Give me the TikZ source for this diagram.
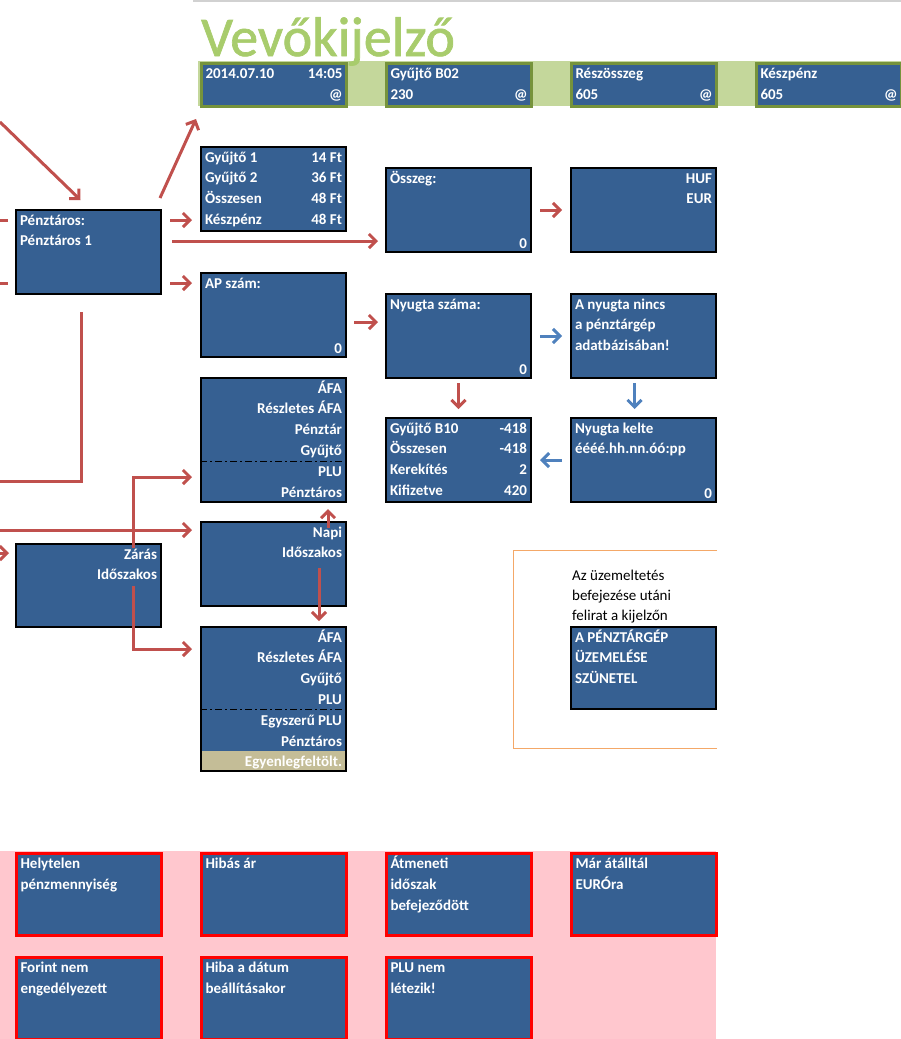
\documentclass[tikz,border=0pt]{standalone}
\usepackage{fontspec}
\setmainfont{Carlito}
\usetikzlibrary{arrows.meta}
\definecolor{scrblue}{RGB}{54,96,146}
\definecolor{bandgreen}{RGB}{196,215,155}
\definecolor{dispolive}{RGB}{118,147,60}
\definecolor{titlegreen}{RGB}{168,204,108}
\definecolor{errpink}{RGB}{255,199,206}
\definecolor{tanband}{RGB}{196,189,151}
\definecolor{arrred}{RGB}{192,80,77}
\definecolor{arrblue}{RGB}{79,129,189}
\definecolor{frameorange}{RGB}{244,168,104}
\newcommand{\screentext}[3][84pt]{\parbox[t][#1][t]{137pt}{#2\rule{0pt}{15pt}#3}}
\newcommand{\bottomzero}{\par\vfill\mbox{}\hfill 0\rule[-4pt]{0pt}{4pt}}
\tikzset{screen/.style={draw=black,line width=2pt,fill=scrblue,text=white,anchor=north west,
   inner xsep=4pt,inner ysep=0pt,font=\bfseries\fontsize{15}{20.8}\selectfont},
 dispbox/.style={screen,draw=dispolive,line width=3pt},
 errbox/.style={screen,draw=red,line width=3pt},
 redarr/.style={draw=arrred,line width=3pt,-{Straight Barb[length=7pt,width=14pt]}},
 bluearr/.style={redarr,draw=arrblue},
 redline/.style={draw=arrred,line width=3pt},
 divider/.style={draw=black,line width=1pt,dash pattern=on 7pt off 3pt on 2pt off 3pt}}

\begin{document}
\begin{tikzpicture}[x=1pt,y=-1pt]
\useasboundingbox (0,0) rectangle (901,1039);
\draw[draw=black!18,line width=1.5pt] (193,1) -- (901,1);
\fill[bandgreen] (198,61) rectangle (901,106);
\node[dispbox] (kdate) at (200,62) {\screentext[43pt]{}{2014.07.10\hfill 14:05\par\mbox{}\hfill @}};
\node[dispbox] (kgyujto) at (385,62) {\screentext[43pt]{}{Gyűjtő B02\par 230\hfill @}};
\node[dispbox] (kresz) at (570,62) {\screentext[43pt]{}{Részösszeg\par 605\hfill @}};
\node[dispbox] (kkesz) at (755,62) {\screentext[43pt]{}{Készpénz\par 605\hfill @}};
\node[anchor=base west,inner sep=0pt,text=titlegreen,font=\fontsize{56}{56}\selectfont\addfontfeature{FakeBold=1.2}] (title) at (201,56) {Vevőkijelző};

\node[screen] (pt) at (15,209) {\screentext{}{Pénztáros:\par Pénztáros 1}};
\node[screen] (gyu) at (200,146) {\screentext{}{Gyűjtő 1\hfill 14 Ft\par Gyűjtő 2\hfill 36 Ft\par Összesen\hfill 48 Ft\par Készpénz\hfill 48 Ft}};
\node[screen] (osszeg) at (385,167) {\screentext{}{Összeg:\bottomzero}};
\node[screen] (deviza) at (570,167) {\screentext{\raggedleft}{HUF\par EUR}};
\node[screen] (ap) at (200,272) {\screentext{}{AP szám:\bottomzero}};
\node[screen] (nyszam) at (385,293) {\screentext{}{Nyugta száma:\bottomzero}};
\node[screen] (nincs) at (570,293) {\screentext{}{A nyugta nincs\par a pénztárgép\par adatbázisában!}};
\node[screen] (gyub10) at (385,417) {\screentext{}{Gyűjtő B10\hfill -418\par Összesen\hfill -418\par Kerekítés\hfill 2\par Kifizetve\hfill 420}};
\node[screen] (kelte) at (570,417) {\screentext{}{Nyugta kelte\par éééé.hh.nn.óó:pp\bottomzero}};
\node[screen] (afa1) at (200,377) {\screentext[124pt]{\raggedleft}{ÁFA\par Részletes ÁFA\par Pénztár\par Gyűjtő\par PLU\par Pénztáros}};
\node[screen] (napi) at (200,521) {\screentext{\raggedleft}{Napi\par Időszakos}};
\node[screen] (zaras) at (15,543) {\screentext[83pt]{\raggedleft}{Zárás\par Időszakos}};
\node[screen,path picture={\fill[tanband] ([yshift=20pt]path picture bounding box.south west) rectangle (path picture bounding box.south east);}] (afa2) at (200,626) {\screentext[144pt]{\raggedleft}{ÁFA\par Részletes ÁFA\par Gyűjtő\par PLU\par Egyszerű PLU\par Pénztáros\par Egyenlegfeltölt.}};
\draw[divider] ([yshift=-84pt]afa1.north west) -- ([yshift=-84pt]afa1.north east);
\draw[divider] ([yshift=-83pt]afa2.north west) -- ([yshift=-83pt]afa2.north east);

\draw[draw=frameorange,line width=1pt] (717,550) -- (513,550) -- (513,748) -- (717,748);
\node[anchor=north west,inner sep=0pt,font=\fontsize{15}{20}\selectfont] (note) at (572,565) {\parbox[t]{140pt}{\rule{0pt}{15pt}Az üzemeltetés\par befejezése utáni\par felirat a kijelzőn}};
\node[screen] (szunet) at (570,626) {\screentext[82pt]{}{A PÉNZTÁRGÉP\par ÜZEMELÉSE\par SZÜNETEL}};

\fill[errpink] (0,851) rectangle (716,1039);
\node[errbox] (err1) at (15,852) {\screentext[82pt]{}{Helytelen\par pénzmennyiség}};
\node[errbox] (err2) at (200,852) {\screentext[82pt]{}{Hibás ár}};
\node[errbox] (err3) at (385,852) {\screentext[82pt]{}{Átmeneti\par időszak\par befejeződött}};
\node[errbox] (err4) at (570,852) {\screentext[82pt]{}{Már átálltál\par EURÓra}};
\node[errbox] (err5) at (15,956) {\screentext[82pt]{}{Forint nem\par engedélyezett}};
\node[errbox] (err6) at (200,956) {\screentext[82pt]{}{Hiba a dátum\par beállításakor}};
\node[errbox] (err7) at (385,956) {\screentext[82pt]{}{PLU nem\par létezik!}};

\coordinate (inA) at (0,122);
\coordinate (inB) at (0,220);
\coordinate (inC) at (0,283);
\coordinate (outD) at (0,481);
\coordinate (inE) at (0,530);
\coordinate (inF) at (0,553);
\draw[redarr] (inA) -- ([xshift=-8pt,yshift=9pt]pt.north);
\draw[redline] (inB) -- ([xshift=-7pt]pt.west |- inB);
\draw[redline] (inC) -- ([xshift=-7pt]pt.west |- inC);
\draw[redarr] ([xshift=-2pt,yshift=11pt]pt.north east) -- ([xshift=-4pt,yshift=-11pt]kdate.south west);
\draw[redarr] ([xshift=8pt,yshift=-11pt]pt.north east) -- ([xshift=-8pt,yshift=-74pt]gyu.north west);
\draw[redarr] ([xshift=10pt,yshift=-32pt]pt.north east) -- ([xshift=-7pt,yshift=-74pt]osszeg.north west);
\draw[redarr] ([xshift=8pt,yshift=-74pt]pt.north east) -- ([xshift=-8pt,yshift=-11pt]ap.north west);
\draw[redarr] ([xshift=7pt,yshift=-50pt]ap.north east) -- ([xshift=-7pt,yshift=-29pt]nyszam.north west);
\draw[redarr] ([xshift=8pt]osszeg.east) -- ([xshift=-8pt]deviza.west);
\draw[redarr] ([yshift=-4pt]nyszam.south) -- ([yshift=8pt]gyub10.north);
\draw[bluearr] ([xshift=8pt]nyszam.east) -- ([xshift=-8pt]nincs.west);
\draw[bluearr] ([xshift=-9pt,yshift=-4pt]nincs.south) -- ([xshift=-9pt,yshift=8pt]kelte.north);
\draw[bluearr] ([xshift=-8pt]kelte.west) -- ([xshift=8pt]gyub10.east);
\draw[redline] ([xshift=-7pt,yshift=-17pt]pt.south) |- (outD);
\draw[redarr] (inE) -- ([xshift=-8pt,yshift=-9pt]napi.north west);
\draw[redarr] (inF) -- ([xshift=-6pt,yshift=-10pt]zaras.north west);
\draw[redarr] ([xshift=-29pt,yshift=-5pt]zaras.north east) |- ([xshift=-8pt,yshift=-100pt]afa1.north west);
\draw[redarr] ([xshift=-29pt,yshift=-43pt]zaras.north east) |- ([xshift=-8pt,yshift=-23pt]afa2.north west);
\draw[redarr] ([xshift=-19pt,yshift=-7pt]napi.north east) -- ([xshift=-19pt,yshift=-6pt]afa1.south east);
\draw[redarr] ([xshift=-28pt,yshift=-47pt]napi.north east) -- ([xshift=-28pt,yshift=5pt]afa2.north east);
\end{tikzpicture}
\end{document}
